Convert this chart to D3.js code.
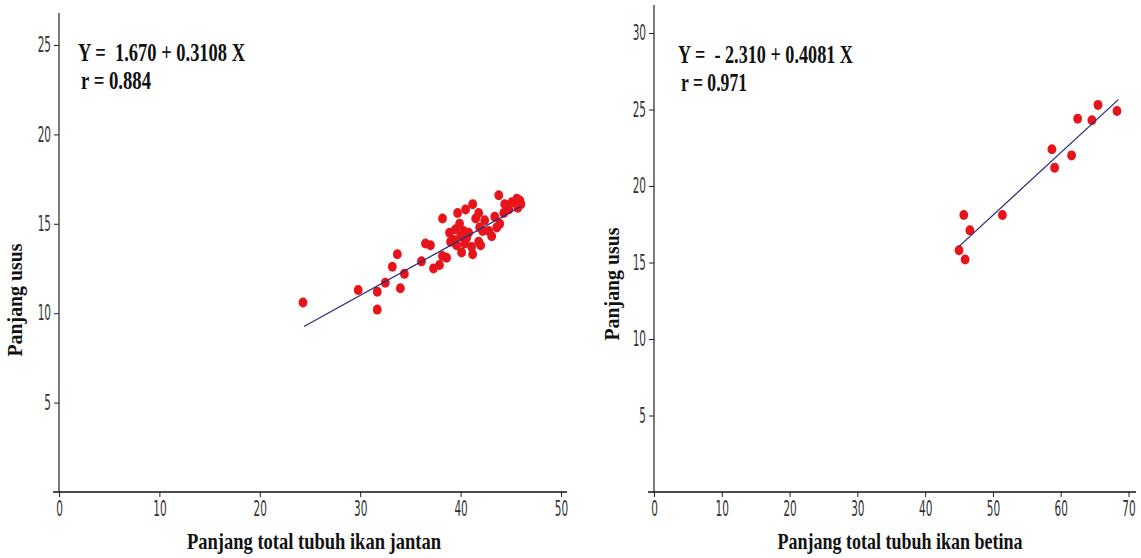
<!DOCTYPE html>
<html><head><meta charset="utf-8">
<script src="https://cdn.jsdelivr.net/npm/d3@7"></script>
<style>html,body{margin:0;padding:0;background:#fff;overflow:hidden}</style>
</head><body>
<svg id="c" width="1141" height="558"></svg>
<script>
// ---- data ----
const maleLength = [24.3,29.8,31.7,31.7,32.5,33.2,33.7,34.4,34.0,36.1,36.5,37.0,37.3,37.9,38.2,38.2,38.9,39.3,39.6,39.7,39.9,40.0,40.1,40.3,40.5,40.6,41.2,41.1,41.2,40.8,41.8,41.9,41.8,42.4,42.8,43.1,43.4,43.8,43.9,44.3,44.4,45.1,45.6,45.9,45.7,39.0,40.4,42.2,43.6,44.8,46.0,38.6,41.5,39.5,42.0];
const maleGut    = [10.6,11.3,11.2,10.2,11.7,12.6,13.3,12.2,11.4,12.9,13.9,13.8,12.5,12.7,13.2,15.3,14.5,14.1,13.8,15.6,15.0,14.3,13.4,14.6,15.8,14.2,16.1,13.7,13.3,14.5,15.6,14.8,14.0,15.2,14.6,14.3,15.4,16.6,15.0,15.6,16.1,16.2,16.4,16.3,15.9,14.0,13.9,14.6,14.8,15.8,16.1,13.1,15.3,14.7,13.8];
const femaleLength = [45.7,46.6,45.0,45.9,51.4,58.7,59.1,61.6,62.5,64.6,65.5,68.3];
const femaleGut    = [18.1,17.1,15.8,15.2,18.1,22.4,21.2,22.0,24.4,24.3,25.3,24.9];
const xTicksMale = [0,10,20,30,40,50];
const xTicksFemale = [0,10,20,30,40,50,60,70];
const yTicksMale = [5,10,15,20,25];
const yTicksFemale = [5,10,15,20,25,30];
const eqMale = ["Y =  1.670 + 0.3108 X", "r = 0.884"];
const eqFemale = ["Y =  - 2.310 + 0.4081 X", "r = 0.971"];
const fitMale = {a:1.670, b:0.3108, x0:24.4, x1:46.0};
const fitFemale = {a:-2.310, b:0.4081, x0:45.0, x1:68.5};
const yTitle = "Panjang usus";
const xTitleMale = "Panjang total tubuh ikan jantan";
const xTitleFemale = "Panjang total tubuh ikan betina";

const svg = d3.select("#c");
const SX = 0.5;

function fitW(sel, w){
  sel.attr("textLength", w).attr("lengthAdjust","spacingAndGlyphs");
}

function panel(o){
  const g = svg.append("g");
  const x = d3.scaleLinear().domain([0, o.xMaxTick]).range([o.x0, o.x1]);
  const y = d3.scaleLinear().domain([0, o.yMaxTick]).range([o.yBase, o.yTopTick]);

  const tickFont = "'DejaVu Sans', sans-serif";
  const xa = g.append("g").attr("transform",`translate(0,${o.yBase})`)
    .call(d3.axisBottom(x).tickValues(o.xTicks).tickSize(5).tickSizeOuter(0).tickPadding(4));
  xa.select(".domain").remove();
  xa.selectAll(".tick line").attr("stroke","#222");
  xa.selectAll(".tick text").attr("font-family",tickFont).attr("font-size",21).attr("fill","#333")
    .attr("transform",`scale(${SX},1)`);

  const ya = g.append("g").attr("transform",`translate(${o.x0},0)`)
    .call(d3.axisLeft(y).tickValues(o.yTicks).tickSize(5).tickSizeOuter(0).tickPadding(3));
  ya.select(".domain").remove();
  ya.selectAll(".tick line").attr("stroke","#222");
  ya.selectAll(".tick text").attr("font-family",tickFont).attr("font-size",21).attr("fill","#333")
    .attr("x", -8/SX).attr("transform",`scale(${SX},1)`);

  g.append("line").attr("x1",o.x0-6).attr("x2",o.xEnd).attr("y1",o.yBase).attr("y2",o.yBase)
    .attr("stroke","#111").attr("stroke-width",1.5);
  g.append("line").attr("x1",o.x0).attr("x2",o.x0).attr("y1",o.yTop).attr("y2",o.yBase)
    .attr("stroke","#222").attr("stroke-width",1.2);

  // points
  g.append("g").selectAll("ellipse").data(o.xs.map((v,i)=>[v,o.ys[i]])).join("ellipse")
    .attr("cx",d=>x(d[0])).attr("cy",d=>y(d[1])).attr("rx",4.4).attr("ry",5)
    .attr("fill","#e8141c");

  // regression line
  const f = o.fit;
  g.append("line").attr("x1",x(f.x0)).attr("y1",y(f.a+f.b*f.x0))
    .attr("x2",x(f.x1)).attr("y2",y(f.a+f.b*f.x1))
    .attr("stroke","#2a2f7a").attr("stroke-width",1.3);

  // equation text
  const serif = "'Liberation Serif', serif";
  const t1 = g.append("text").attr("x",o.eqX).attr("y",o.eqY).text(o.eq[0]).style("white-space","pre")
    .attr("font-family",serif).attr("font-weight","bold").attr("font-size",25).attr("fill","#111");
  fitW(t1, o.eqW1);
  const t2 = g.append("text").attr("x",o.eqX+3).attr("y",o.eqY+28).text(o.eq[1]).style("white-space","pre")
    .attr("font-family",serif).attr("font-weight","bold").attr("font-size",25).attr("fill","#111");
  fitW(t2, o.eqW2);

  // axis titles
  const xt = g.append("text").attr("x",o.xtX).attr("y",549).attr("text-anchor","middle").text(o.xTitle)
    .attr("font-family",serif).attr("font-weight","bold").attr("font-size",24).attr("fill","#111");
  fitW(xt, o.xtW);
  const yt = g.append("text").attr("transform",`translate(${o.ytX},${o.ytY}) rotate(-90)`).attr("text-anchor","middle").text(yTitle)
    .attr("font-family",serif).attr("font-weight","bold").attr("font-size",20).attr("fill","#111");
  fitW(yt, o.ytW);
}

panel({xMaxTick:50, yMaxTick:25, x0:59, x1:561, xEnd:567, yBase:492, yTopTick:45, yTop:13,
  xTicks:xTicksMale, yTicks:yTicksMale, xs:maleLength, ys:maleGut, fit:fitMale,
  eq:eqMale, eqX:78, eqY:61, eqW1:167, eqW2:70,
  xTitle:xTitleMale, xtX:314, xtW:254, ytX:22, ytY:300, ytW:113});

panel({xMaxTick:70, yMaxTick:30, x0:654, x1:1128.5, xEnd:1136, yBase:492, yTopTick:33, yTop:5,
  xTicks:xTicksFemale, yTicks:yTicksFemale, xs:femaleLength, ys:femaleGut, fit:fitFemale,
  eq:eqFemale, eqX:678, eqY:63, eqW1:175, eqW2:66,
  xTitle:xTitleFemale, xtX:900, xtW:245, ytX:619, ytY:284, ytW:113});
</script>
</body></html>
